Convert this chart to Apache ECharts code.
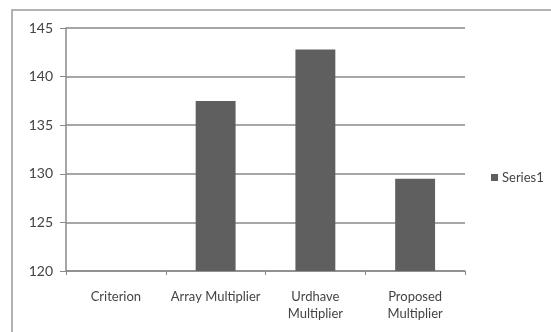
<!DOCTYPE html>
<html>
<head>
<meta charset="utf-8">
<style>
  html, body { margin: 0; padding: 0; background: #ffffff; }
  #chart { width: 551px; height: 332px; }
</style>
<script src="https://cdn.jsdelivr.net/npm/echarts@6/dist/echarts.min.js"></script>
</head>
<body>
<div id="chart"></div>
<script>
// Multiplier comparison
const categories = ['Criterion', 'Array Multiplier', 'Urdhave\nMultiplier', 'Proposed\nMultiplier'];
const series1 = [null, 137.5, 142.8, 129.5];
const seriesName = 'Series1';
const yMin = 120, yMax = 145, yStep = 5;

const textColor = '#444444';
const lineColor = '#8a8a8a';
const fontFamily = 'Lato, "Open Sans", sans-serif';

const chart = echarts.init(document.getElementById('chart'), null, { renderer: 'canvas' });
chart.setOption({
  animation: false,
  backgroundColor: '#ffffff',
  graphic: [
    // chart frame running off the bottom and right edges
    {
      type: 'rect', silent: true,
      shape: { x: 12, y: 10, width: 600, height: 400 },
      style: { fill: 'none', stroke: '#9a9a9a', lineWidth: 1.5 }
    }
  ],
  grid: { left: 66, right: 86, top: 28, bottom: 61, containLabel: false },
  legend: {
    data: [seriesName],
    orient: 'vertical',
    left: 486, top: 166,
    itemWidth: 7, itemHeight: 7, itemGap: 4,
    icon: 'rect',
    textStyle: { color: textColor, fontSize: 13, fontFamily: fontFamily, padding: [0, 0, 0, -1] }
  },
  xAxis: {
    type: 'category',
    data: categories,
    axisLine: { show: true, lineStyle: { color: lineColor, width: 1.5 } },
    axisTick: { show: true, alignWithLabel: false, length: 4, lineStyle: { color: lineColor } },
    axisLabel: {
      color: textColor, fontSize: 13, fontFamily: fontFamily,
      margin: 17, lineHeight: 17, interval: 0
    },
    splitLine: { show: false }
  },
  yAxis: {
    type: 'value',
    min: yMin, max: yMax, interval: yStep,
    axisLine: { show: true, lineStyle: { color: lineColor, width: 1.5 } },
    axisTick: { show: true, length: 6, lineStyle: { color: lineColor } },
    axisLabel: { color: textColor, fontSize: 14, fontFamily: fontFamily, margin: 13 },
    splitLine: { show: true, lineStyle: { color: lineColor, width: 1.5 } }
  },
  series: [{
    name: seriesName,
    type: 'bar',
    data: series1,
    barWidth: '40%',
    itemStyle: { color: '#5f5f5f' }
  }]
});
</script>
</body>
</html>
